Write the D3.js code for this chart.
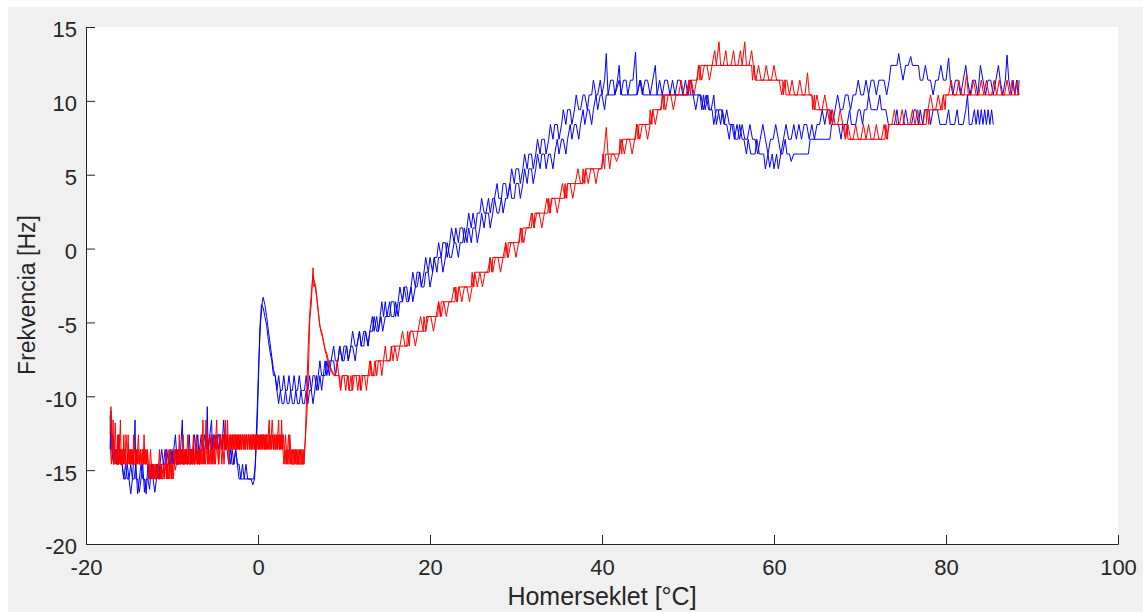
<!DOCTYPE html>
<html>
<head>
<meta charset="utf-8">
<script src="https://cdn.jsdelivr.net/npm/d3@7"></script>
<style>
  html, body { margin: 0; padding: 0; background: #ffffff; }
  svg { display: block; font-family: Arial, "Liberation Sans", Helvetica, sans-serif; }
</style>
</head>
<body>
<svg id="chart" width="1143" height="612"></svg>
<script>
// Axis ticks
const xTicks = [-20, 0, 20, 40, 60, 80, 100];
const yTicks = [-20, -15, -10, -5, 0, 5, 10, 15];

// Measured runs: [temperature °C, frequency Hz]
const blueRunA = [
  [-17.2,-11.3],[-17.1,-13.6],[-17.0,-12.6],[-16.9,-13.6],[-16.8,-14.6],[-16.6,-13.6],[-16.4,-14.6],[-16.2,-14.6],[-16.0,-13.6],[-15.8,-14.6],
  [-15.6,-15.6],[-15.4,-14.6],[-15.2,-15.6],[-15.0,-15.6],[-14.8,-14.6],[-14.6,-15.6],[-14.4,-13.6],[-14.3,-11.6],[-14.2,-15.6],[-14.0,-15.6],
  [-13.8,-16.5],[-13.6,-15.6],[-13.4,-14.6],[-13.2,-16.5],[-13.0,-15.6],[-12.8,-15.6],[-12.6,-16.3],[-12.4,-14.6],[-12.2,-15.6],[-12.0,-16.5],
  [-11.8,-15.6],[-11.6,-14.6],[-11.4,-15.6],[-11.2,-14.6],[-11.0,-14.6],[-10.8,-13.6],[-10.6,-14.6],[-10.4,-14.6],[-10.2,-13.6],[-10.0,-14.6],
  [-9.8,-13.6],[-9.6,-12.6],[-9.4,-14.6],[-9.2,-13.6],[-9.0,-14.6],[-8.8,-13.6],[-8.6,-14.6],[-8.4,-13.6],[-8.2,-14.6],[-8.0,-12.6],
  [-7.8,-14.6],[-7.6,-13.6],[-7.4,-14.6],[-7.2,-13.6],[-7.0,-12.6],[-6.8,-14.6],[-6.6,-13.6],[-6.4,-13.6],[-6.2,-12.6],[-6.0,-13.6],
  [-5.9,-10.7],[-5.8,-13.6],[-5.6,-12.6],[-5.4,-13.6],[-5.2,-12.6],[-5.0,-13.6],[-4.8,-12.6],[-4.6,-13.6],[-4.4,-12.6],[-4.2,-13.6],
  [-4.0,-11.6],[-3.8,-13.6],[-3.6,-12.6],[-3.4,-13.6],[-3.2,-14.6],[-3.0,-13.6],[-2.8,-14.6],[-2.6,-13.6],[-2.4,-14.6],[-2.2,-14.6],
  [-2.0,-15.6],[-1.8,-14.6],[-1.6,-15.6],[-1.4,-14.6],[-1.2,-15.6],[-1.0,-15.6],[-0.8,-15.6],[-0.6,-16.0],[-0.4,-15.6],[-0.3,-14.3],
  [-0.1,-11.0],[0.1,-7.5],[0.3,-5.0],[0.5,-3.6],[0.6,-3.3],[0.8,-3.8],[1.0,-4.6],[1.2,-5.5],[1.4,-6.4],[1.6,-7.3],
  [1.8,-8.2],[2.0,-8.6],[2.2,-9.6],[2.4,-10.5],[2.6,-9.6],[2.8,-10.5],[3.0,-10.5],[3.2,-9.6],[3.4,-10.5],[3.6,-10.5],
  [3.8,-9.6],[4.0,-10.5],[4.2,-10.5],[4.4,-9.6],[4.6,-10.5],[4.8,-10.5],[5.0,-9.6],[5.2,-10.5],[5.4,-10.5],[5.6,-9.6],
  [5.8,-10.5],[6.0,-9.6],[6.2,-9.6],[6.4,-10.5],[6.6,-9.6],[6.8,-8.6],[7.0,-9.6],[7.2,-8.6],[7.4,-9.6],[7.6,-8.6],
  [7.8,-8.6],[8.0,-7.6],[8.3,-8.6],[8.5,-7.6],[8.8,-7.6],[9.0,-8.6],[9.3,-7.6],[9.5,-6.6],[9.8,-7.6],[10.0,-7.6],
  [10.3,-6.6],[10.5,-7.6],[10.8,-6.6],[11.0,-6.6],[11.3,-7.6],[11.5,-6.6],[11.8,-5.6],[12.0,-6.6],[12.3,-6.6],[12.5,-5.6],
  [12.8,-6.6],[13.0,-5.6],[13.3,-5.6],[13.5,-4.6],[13.8,-5.6],[14.0,-5.6],[14.3,-4.6],[14.5,-5.6],[14.8,-4.6],[15.0,-4.6],
  [15.3,-3.6],[15.5,-4.6],[15.8,-4.6],[16.0,-3.6],[16.3,-4.6],[16.5,-3.6],[16.8,-3.6],[17.0,-2.6],[17.3,-3.6],[17.5,-3.6],
  [17.8,-2.6],[18.0,-3.6],[18.3,-2.6],[18.5,-2.6],[18.8,-1.6],[19.0,-2.6],[19.3,-2.6],[19.5,-1.6],[19.8,-1.6],[20.0,-2.6],
  [20.3,-1.6],[20.5,-0.6],[20.8,-1.6],[21.0,-0.6],[21.3,-0.6],[21.5,-1.6],[21.8,-0.6],[22.0,0.4],[22.3,-0.6],[22.5,-0.6],
  [22.8,0.4],[23.0,0.4],[23.3,-0.6],[23.5,0.4],[23.8,0.4],[24.0,1.4],[24.3,0.4],[24.5,1.4],[24.8,0.4],[25.0,1.4],
  [25.3,1.4],[25.5,0.4],[25.8,1.4],[26.0,2.4],[26.3,1.4],[26.5,2.4],[26.8,2.4],[27.0,1.4],[27.3,2.4],[27.5,3.4],
  [27.8,2.4],[28.0,2.4],[28.3,3.4],[28.5,2.4],[28.8,3.4],[29.0,3.4],[29.3,4.4],[29.5,3.4],[29.8,3.4],[30.0,4.4],
  [30.3,4.4],[30.5,3.4],[30.8,4.4],[31.0,5.4],[31.3,4.4],[31.5,5.4],[31.8,5.4],[32.0,4.4],[32.3,5.4],[32.5,6.4],
  [32.8,5.4],[33.0,6.4],[33.3,6.4],[33.5,5.4],[33.8,6.4],[34.0,6.4],[34.3,5.4],[34.5,6.4],[34.8,7.4],[35.0,6.4],
  [35.3,7.4],[35.5,7.4],[35.8,6.4],[36.0,7.4],[36.3,8.4],[36.5,7.4],[36.8,8.4],[37.0,8.4],[37.3,7.4],[37.5,8.4],
  [37.8,9.4],[38.0,8.4],[38.3,9.4],[38.5,9.4],[38.8,8.4],[39.0,9.4],[39.3,10.4],[39.5,9.4],[39.8,10.4],[40.0,10.4],
  [40.3,9.4],[40.5,10.4],[41.0,10.4],[41.5,10.4],[42.0,11.4],[42.3,10.4],[43.0,10.4],[44.0,10.4],[44.5,11.4],[44.8,10.4],
  [46.0,10.4],[47.0,10.4],[48.0,10.4],[49.0,10.4],[50.0,10.4],[51.0,10.4],[51.4,10.4],[51.6,9.4],[51.8,10.4],[52.0,9.4],
  [52.3,10.4],[52.5,9.4],[52.8,9.4],[53.0,8.4],[53.3,9.4],[53.5,9.4],[53.8,8.4],[54.0,9.4],[54.3,8.4],[54.5,8.4],
  [54.8,7.4],[55.0,8.4],[55.3,8.4],[55.5,7.4],[55.8,7.4],[56.0,8.4],[56.3,7.4],[56.5,7.4],[56.8,6.4],[57.0,7.4],
  [57.3,6.4],[57.5,6.4],[57.8,6.4],[58.0,7.4],[58.3,6.4],[58.8,6.4],[59.0,5.4],[59.3,6.4],[59.5,5.5],[59.8,6.4],
  [60.0,5.4],[60.3,6.4],[60.5,5.4],[60.8,6.4],[61.0,6.4],[61.3,7.4],[61.5,6.4],[61.8,6.4],[62.0,5.9],[62.3,6.4],
  [63.0,6.4],[63.5,6.4],[64.0,6.4],[64.2,7.4],[65.0,7.4],[66.0,7.4],[66.5,7.4],[66.7,8.4],[67.5,8.4],[67.8,7.4],
  [68.0,8.4],[68.5,8.4],[68.8,9.4],[69.0,8.4],[69.5,8.4],[69.8,9.4],[70.0,9.4],[70.3,8.4],[70.5,9.4],[70.8,9.4],
  [71.0,10.4],[71.3,9.4],[71.5,9.4],[72.0,9.4],[72.3,10.4],[72.5,9.4],[73.0,9.4],[73.3,8.4],[73.5,8.4],[74.0,8.4],
  [74.3,9.4],[74.5,8.4],[75.0,8.4],[75.3,9.4],[75.6,8.4],[76.0,8.4],[76.3,9.4],[76.5,9.4],[76.8,8.4],[77.0,9.4],
  [77.3,8.4],[77.5,9.4],[78.0,9.4],[78.2,8.4],[78.5,9.4],[79.0,9.4],[79.3,8.4],[79.6,8.4],[80.0,8.4],[80.3,9.4],
  [80.5,8.4],[81.0,8.4],[81.3,9.4],[81.5,8.4],[82.0,8.4],[82.3,9.4],[82.5,10.4],[82.7,8.4],[83.0,8.4],[83.3,9.4],
  [83.5,8.4],[83.7,9.4],[83.9,8.4],[84.1,9.4],[84.3,8.4],[84.5,9.4],[84.7,8.4],[84.9,9.4],[85.1,8.4],[85.3,9.4],
  [85.5,8.4]
];

const blueRunB = [
  [-17.2,-13.6],[-17.1,-11.0],[-17.0,-13.6],[-16.8,-14.6],[-16.6,-13.6],[-16.4,-14.6],[-16.2,-12.6],[-16.0,-14.6],[-15.8,-14.6],[-15.6,-15.6],
  [-15.4,-15.6],[-15.2,-14.6],[-15.0,-15.6],[-14.8,-16.6],[-14.6,-15.6],[-14.4,-15.6],[-14.2,-14.6],[-14.0,-16.6],[-13.8,-15.6],[-13.6,-14.6],
  [-13.4,-15.6],[-13.2,-15.6],[-13.0,-16.6],[-12.8,-14.6],[-12.6,-15.6],[-12.4,-15.6],[-12.2,-14.6],[-12.0,-15.6],[-11.8,-14.6],[-11.6,-15.6],
  [-11.4,-14.6],[-11.2,-13.6],[-11.0,-14.6],[-10.8,-14.6],[-10.6,-13.6],[-10.4,-14.6],[-10.2,-14.6],[-10.0,-13.6],[-9.8,-14.6],[-9.6,-13.6],
  [-9.4,-14.6],[-9.2,-14.6],[-9.0,-13.6],[-8.8,-11.6],[-8.7,-14.6],[-8.4,-13.6],[-8.2,-14.6],[-8.0,-13.6],[-7.8,-13.6],[-7.6,-14.6],
  [-7.4,-12.6],[-7.2,-13.6],[-7.0,-14.6],[-6.8,-13.6],[-6.6,-12.6],[-6.4,-13.6],[-6.2,-13.6],[-6.0,-12.6],[-5.8,-13.6],[-5.6,-12.6],
  [-5.4,-11.6],[-5.3,-13.6],[-5.0,-12.6],[-4.8,-13.6],[-4.6,-12.6],[-4.4,-12.6],[-4.2,-13.6],[-4.0,-12.6],[-3.8,-13.6],[-3.6,-13.6],
  [-3.4,-14.6],[-3.2,-13.6],[-3.0,-14.6],[-2.8,-14.6],[-2.6,-13.6],[-2.4,-14.6],[-2.2,-15.6],[-2.0,-15.6],[-1.6,-15.6],[-1.2,-15.6],
  [-0.8,-15.6],[-0.5,-15.6],[-0.3,-14.6],[-0.1,-12.0],[0.1,-8.0],[0.2,-5.5],[0.4,-3.8],[0.6,-4.0],[0.8,-4.6],[1.0,-5.2],
  [1.2,-6.2],[1.4,-7.0],[1.6,-7.6],[1.8,-8.6],[2.0,-8.6],[2.2,-9.6],[2.4,-8.6],[2.6,-9.6],[2.8,-9.6],[3.0,-8.6],
  [3.2,-9.6],[3.4,-9.6],[3.6,-8.6],[3.8,-9.6],[4.0,-9.6],[4.2,-8.6],[4.4,-9.6],[4.6,-9.6],[4.8,-8.6],[5.0,-9.6],
  [5.2,-9.6],[5.4,-9.6],[5.6,-8.6],[5.8,-9.6],[6.0,-8.6],[6.2,-9.6],[6.4,-8.6],[6.6,-8.6],[6.8,-9.6],[7.0,-8.6],
  [7.2,-7.6],[7.4,-8.6],[7.6,-8.6],[7.8,-7.6],[8.0,-8.6],[8.3,-7.6],[8.5,-7.6],[8.8,-6.6],[9.0,-7.6],[9.3,-7.6],
  [9.5,-6.6],[9.8,-7.6],[10.0,-6.6],[10.3,-6.6],[10.5,-7.6],[10.8,-6.6],[11.0,-5.6],[11.3,-6.6],[11.5,-6.6],[11.8,-5.6],
  [12.0,-6.6],[12.3,-5.6],[12.5,-5.6],[12.8,-6.6],[13.0,-5.6],[13.3,-4.6],[13.5,-5.6],[13.8,-4.6],[14.0,-5.6],[14.2,-4.6],
  [14.4,-3.6],[14.6,-4.6],[14.8,-3.6],[15.0,-4.6],[15.3,-4.6],[15.5,-3.6],[15.8,-3.6],[16.0,-4.6],[16.3,-3.6],[16.5,-2.6],
  [16.8,-3.6],[17.0,-2.6],[17.3,-2.6],[17.5,-3.6],[17.8,-2.6],[18.0,-1.6],[18.3,-2.6],[18.5,-1.6],[18.8,-1.6],[19.0,-2.6],
  [19.3,-1.6],[19.5,-0.6],[19.8,-1.6],[20.0,-0.6],[20.3,-1.6],[20.5,-0.6],[20.8,-0.6],[21.0,0.4],[21.3,-0.6],[21.5,0.4],
  [21.8,0.4],[22.0,-0.6],[22.3,0.4],[22.5,1.4],[22.8,0.4],[23.0,1.4],[23.3,0.4],[23.5,1.4],[23.8,1.4],[24.0,0.4],
  [24.3,1.4],[24.5,2.4],[24.8,1.4],[25.0,2.4],[25.3,1.4],[25.5,2.4],[25.8,2.4],[26.0,3.4],[26.3,2.4],[26.5,2.4],
  [26.8,3.4],[27.0,2.4],[27.3,3.4],[27.5,3.4],[27.8,4.4],[28.0,3.4],[28.3,3.4],[28.5,4.4],[28.8,4.4],[29.0,3.4],
  [29.3,4.4],[29.5,5.4],[29.8,4.4],[30.0,5.4],[30.3,5.4],[30.5,4.4],[30.8,5.4],[31.0,6.4],[31.3,5.4],[31.5,6.4],
  [31.8,6.4],[32.0,5.4],[32.3,6.4],[32.5,7.4],[32.8,6.4],[33.0,7.4],[33.3,7.4],[33.5,6.4],[33.8,7.4],[34.0,8.4],
  [34.3,7.4],[34.5,8.4],[34.8,8.4],[35.0,7.4],[35.3,8.4],[35.5,9.4],[35.8,8.4],[36.0,9.4],[36.3,9.4],[36.5,8.4],
  [36.8,9.4],[37.0,10.4],[37.3,9.4],[37.5,9.4],[37.8,10.4],[38.0,10.4],[38.3,9.4],[38.5,10.4],[38.8,10.4],[39.0,11.4],
  [39.3,10.4],[39.5,10.4],[39.8,11.4],[40.0,10.4],[40.3,11.4],[40.5,13.2],[40.7,10.4],[41.0,11.4],[41.3,11.4],[41.5,10.4],
  [41.8,11.4],[42.0,12.4],[42.2,10.4],[42.5,11.4],[42.8,11.4],[43.0,10.4],[43.3,11.4],[43.6,11.4],[43.9,13.3],[44.1,10.4],
  [44.4,11.4],[44.7,10.4],[45.0,11.4],[45.3,11.4],[45.6,10.4],[45.9,11.4],[46.2,12.4],[46.4,10.4],[46.7,11.4],[47.0,10.4],
  [47.3,11.4],[47.6,11.4],[47.9,10.4],[48.2,11.4],[48.5,10.4],[48.8,11.4],[49.1,11.4],[49.4,10.4],[49.7,11.4],[50.0,10.4],
  [50.3,11.4],[50.6,10.4],[50.9,9.4],[51.2,10.4],[51.5,10.4],[51.8,9.4],[52.1,10.4],[52.4,9.4],[52.7,9.4],[53.0,10.4],
  [53.3,8.4],[53.6,9.4],[53.9,9.4],[54.2,8.4],[54.5,9.4],[54.8,8.4],[55.1,8.4],[55.4,7.4],[55.7,8.4],[56.0,7.4],
  [56.3,8.4],[56.6,7.4],[56.9,7.4],[57.2,8.4],[57.5,7.4],[57.8,7.4],[58.1,6.4],[58.4,7.4],[58.7,8.4],[59.0,7.4],
  [59.3,6.4],[59.6,7.4],[59.9,7.4],[60.2,8.4],[60.5,7.4],[60.8,6.4],[61.1,7.4],[61.4,8.4],[61.7,7.4],[62.0,7.4],
  [62.3,8.4],[62.6,7.4],[62.9,8.4],[63.2,7.4],[63.5,8.4],[63.8,8.4],[64.1,7.4],[64.4,8.4],[64.7,7.4],[65.0,8.4],
  [65.3,8.4],[65.6,9.4],[65.9,8.4],[66.2,9.4],[66.5,9.4],[66.8,8.4],[67.1,9.4],[67.4,10.4],[67.7,9.4],[68.0,9.4],
  [68.3,10.4],[68.6,10.4],[68.9,9.4],[69.2,10.4],[69.5,10.4],[69.8,11.4],[70.1,10.4],[70.4,10.4],[70.7,11.4],[71.0,10.4],
  [71.3,11.4],[71.6,11.4],[71.9,10.4],[72.2,11.4],[72.5,11.4],[72.8,11.4],[73.1,10.4],[73.4,11.4],[73.6,12.4],[74.0,12.4],
  [74.3,12.4],[74.5,13.2],[74.7,12.4],[75.0,11.4],[75.3,12.4],[75.6,12.4],[75.9,13.0],[76.1,12.4],[76.5,12.4],[76.8,12.4],
  [77.0,11.4],[77.3,11.4],[77.6,12.4],[77.9,11.4],[78.2,11.4],[78.5,10.4],[78.8,11.4],[79.1,11.4],[79.4,12.4],[79.7,11.4],
  [80.0,11.4],[80.3,12.9],[80.5,11.4],[80.8,10.4],[81.1,11.4],[81.4,11.4],[81.7,10.4],[82.0,11.4],[82.3,12.4],[82.5,11.4],
  [82.8,10.4],[83.1,11.4],[83.4,11.4],[83.7,10.4],[84.0,12.4],[84.3,11.4],[84.6,10.4],[84.9,11.4],[85.2,11.4],[85.5,10.4],
  [85.8,11.4],[86.1,12.4],[86.3,11.4],[86.6,10.4],[86.9,11.4],[87.1,13.1],[87.3,11.4],[87.6,10.4],[87.8,11.4],[88.0,10.4],
  [88.2,11.4],[88.4,10.4],[88.5,11.4]
];

const redRunA = [
  [-17.2,-12.6],[-17.1,-10.7],[-17.0,-13.6],[-16.9,-12.6],[-16.8,-14.6],[-16.7,-13.6],[-16.6,-11.8],[-16.5,-13.6],[-16.4,-14.6],[-16.3,-12.6],
  [-16.2,-14.6],[-16.1,-13.6],[-16.0,-11.6],[-15.9,-14.6],[-15.8,-13.6],[-15.7,-14.6],[-15.6,-12.6],[-15.5,-14.6],[-15.4,-13.6],[-15.3,-14.6],
  [-15.2,-14.6],[-15.1,-12.6],[-15.0,-14.6],[-14.9,-13.6],[-14.8,-14.6],[-14.7,-13.6],[-14.6,-14.6],[-14.5,-13.6],[-14.4,-14.6],[-14.3,-14.6],
  [-14.2,-13.6],[-14.1,-14.6],[-14.0,-13.6],[-13.9,-12.6],[-13.8,-14.6],[-13.7,-13.6],[-13.6,-14.6],[-13.5,-14.6],[-13.4,-13.6],[-13.3,-14.6],
  [-13.2,-13.6],[-13.1,-14.6],[-13.0,-14.6],[-12.9,-13.6],[-12.8,-14.6],[-12.7,-15.6],[-12.6,-14.6],[-12.5,-13.6],[-12.4,-14.6],[-12.3,-14.6],
  [-12.2,-15.6],[-12.1,-14.6],[-12.0,-15.6],[-11.8,-15.6],[-11.7,-14.6],[-11.6,-15.6],[-11.4,-15.6],[-11.3,-14.6],[-11.2,-15.6],[-11.0,-14.6],
  [-10.9,-15.6],[-10.8,-14.6],[-10.7,-13.6],[-10.6,-15.6],[-10.5,-14.6],[-10.4,-15.6],[-10.3,-14.6],[-10.2,-13.6],[-10.1,-14.6],[-10.0,-15.6],
  [-9.9,-14.6],[-9.8,-13.6],[-9.7,-14.6],[-9.6,-15.0],[-9.5,-14.6],[-9.4,-13.6],[-9.3,-14.6],[-9.2,-13.6],[-9.1,-14.6],[-9.0,-14.6],
  [-8.9,-13.6],[-8.8,-14.6],[-8.7,-12.6],[-8.6,-14.6],[-8.5,-13.6],[-8.4,-14.6],[-8.3,-13.6],[-8.2,-14.6],[-8.1,-13.6],[-8.0,-14.6],
  [-7.9,-14.6],[-7.8,-13.6],[-7.7,-14.6],[-7.6,-13.6],[-7.5,-12.6],[-7.4,-14.6],[-7.3,-13.6],[-7.2,-14.6],[-7.1,-13.6],[-7.0,-14.6],
  [-6.9,-13.6],[-6.8,-14.6],[-6.7,-13.6],[-6.6,-14.6],[-6.5,-13.6],[-6.4,-11.6],[-6.3,-14.6],[-6.2,-13.6],[-6.1,-14.6],[-6.0,-13.6],
  [-5.9,-12.6],[-5.8,-14.6],[-5.7,-13.6],[-5.6,-14.6],[-5.5,-13.6],[-5.4,-12.6],[-5.3,-14.6],[-5.2,-13.6],[-5.1,-14.6],[-5.0,-13.6],
  [-4.9,-12.6],[-4.8,-11.6],[-4.7,-13.6],[-4.6,-14.6],[-4.5,-13.6],[-4.4,-12.6],[-4.3,-13.6],[-4.2,-14.6],[-4.1,-13.6],[-4.0,-12.6],
  [-3.9,-13.6],[-3.8,-11.6],[-3.7,-13.6],[-3.6,-12.6],[-3.5,-13.6],[-3.4,-14.6],[-3.3,-13.6],[-3.2,-12.6],[-3.1,-13.6],[-3.0,-12.6],
  [-2.9,-13.6],[-2.8,-12.6],[-2.7,-13.6],[-2.6,-12.6],[-2.5,-13.6],[-2.4,-12.6],[-2.3,-13.6],[-2.2,-12.6],[-2.1,-13.6],[-2.0,-12.6],
  [-1.9,-13.6],[-1.8,-12.6],[-1.7,-13.6],[-1.6,-12.6],[-1.5,-13.6],[-1.4,-12.6],[-1.3,-12.6],[-1.2,-13.6],[-1.1,-12.6],[-1.0,-13.6],
  [-0.9,-12.6],[-0.8,-13.6],[-0.7,-12.6],[-0.6,-13.6],[-0.5,-12.6],[-0.4,-13.6],[-0.3,-12.6],[-0.2,-13.6],[-0.1,-12.6],[0.0,-13.6],
  [0.1,-12.6],[0.2,-13.6],[0.3,-12.6],[0.4,-12.6],[0.5,-13.6],[0.6,-12.6],[0.7,-13.6],[0.8,-12.6],[0.9,-13.6],[1.0,-12.6],
  [1.1,-13.6],[1.2,-12.6],[1.3,-11.6],[1.4,-13.6],[1.5,-12.6],[1.6,-13.6],[1.7,-12.6],[1.8,-13.6],[1.9,-12.6],[2.0,-13.6],
  [2.1,-12.6],[2.2,-13.6],[2.3,-12.6],[2.4,-11.6],[2.5,-13.6],[2.6,-12.6],[2.7,-13.6],[2.8,-12.6],[2.9,-13.6],[3.0,-14.6],
  [3.1,-13.6],[3.2,-12.6],[3.3,-13.6],[3.4,-14.6],[3.5,-13.6],[3.6,-14.6],[3.7,-12.6],[3.8,-13.6],[3.9,-14.6],[4.0,-13.6],
  [4.1,-14.6],[4.2,-14.6],[4.3,-13.6],[4.4,-14.6],[4.5,-13.6],[4.6,-14.6],[4.7,-14.6],[4.8,-13.6],[4.9,-14.6],[5.0,-14.6],
  [5.1,-13.6],[5.2,-14.6],[5.3,-14.6],[5.4,-13.6],[5.5,-13.0],[5.7,-11.0],[5.9,-7.5],[6.0,-5.0],[6.2,-3.7],[6.3,-2.5],
  [6.4,-1.3],[6.5,-2.6],[6.6,-2.4],[6.8,-3.2],[7.0,-4.2],[7.2,-5.3],[7.4,-5.6],[7.6,-6.2],[7.8,-6.8],[8.0,-7.1],
  [8.2,-7.6],[8.4,-8.0],[8.7,-8.4],[9.0,-8.6],[9.2,-7.6],[9.4,-8.6],[9.6,-9.6],[9.8,-8.6],[10.0,-8.6],[10.2,-9.6],
  [10.4,-8.6],[10.6,-9.6],[10.8,-8.6],[11.0,-9.6],[11.2,-8.6],[11.4,-8.6],[11.6,-9.6],[11.8,-8.6],[12.0,-9.6],[12.2,-8.6],
  [12.4,-8.6],[12.6,-9.6],[12.8,-8.6],[13.0,-7.6],[13.2,-8.6],[13.4,-8.6],[13.6,-7.6],[13.8,-8.6],[14.0,-7.6],[14.2,-7.6],
  [14.4,-8.6],[14.6,-7.6],[14.8,-6.6],[15.0,-7.6],[15.3,-7.6],[15.6,-6.6],[15.9,-6.6],[16.2,-7.6],[16.5,-6.6],[16.8,-5.6],
  [17.1,-6.6],[17.4,-6.6],[17.7,-5.6],[18.0,-5.6],[18.3,-6.6],[18.6,-5.6],[18.9,-4.6],[19.2,-5.6],[19.5,-5.6],[19.8,-4.6],
  [20.1,-4.6],[20.4,-5.6],[20.7,-4.6],[21.0,-3.6],[21.3,-4.6],[21.6,-3.6],[21.9,-4.6],[22.2,-3.6],[22.5,-3.6],[22.8,-2.6],
  [23.1,-3.6],[23.4,-2.6],[23.7,-3.6],[24.0,-2.6],[24.3,-2.6],[24.6,-3.6],[24.9,-2.6],[25.2,-1.6],[25.5,-2.6],[25.8,-1.6],
  [26.1,-2.6],[26.4,-1.6],[26.7,-1.6],[27.0,-0.6],[27.3,-1.6],[27.6,-0.6],[27.9,-0.6],[28.2,-1.6],[28.5,-0.6],[28.8,0.4],
  [29.1,-0.6],[29.4,0.4],[29.7,0.4],[30.0,-0.6],[30.3,0.4],[30.6,1.4],[30.9,0.4],[31.2,1.4],[31.5,1.4],[31.8,2.4],
  [32.1,1.4],[32.4,2.4],[32.7,2.4],[33.0,1.4],[33.3,2.4],[33.6,3.4],[33.9,2.4],[34.2,3.4],[34.5,3.4],[34.8,2.4],
  [35.1,3.4],[35.4,4.4],[35.7,3.4],[36.0,4.4],[36.3,4.4],[36.6,3.4],[36.9,4.4],[37.2,5.4],[37.5,4.4],[37.8,4.4],
  [38.1,5.4],[38.4,4.4],[38.7,5.4],[39.0,5.4],[39.3,4.4],[39.6,5.4],[39.9,5.4],[40.2,6.4],[40.5,8.2],[40.7,6.4],
  [40.9,5.4],[41.1,6.4],[41.4,6.4],[41.7,5.9],[42.0,6.4],[42.3,7.4],[42.6,6.4],[42.9,7.4],[43.2,7.4],[43.5,6.4],
  [43.8,7.4],[44.1,8.4],[44.4,7.4],[44.7,8.4],[45.0,8.4],[45.3,7.4],[45.6,8.4],[45.9,9.4],[46.2,8.4],[46.5,9.4],
  [46.8,9.4],[47.1,10.4],[47.4,9.4],[47.7,10.4],[48.0,10.4],[48.3,9.4],[48.6,10.4],[48.9,10.4],[49.2,11.4],[49.5,10.4],
  [49.8,10.4],[50.1,11.4],[50.4,11.4],[50.7,10.4],[51.0,11.4],[51.3,12.4],[51.6,11.4],[51.9,12.4],[52.2,12.4],[52.5,11.4],
  [52.8,12.4],[53.1,13.4],[53.3,12.4],[53.6,14.0],[53.8,12.4],[54.1,12.4],[54.4,13.4],[54.6,12.4],[55.0,12.4],[55.3,13.4],
  [55.5,12.4],[55.8,12.4],[56.1,13.4],[56.3,12.4],[56.6,14.0],[56.8,12.4],[57.1,12.4],[57.4,13.4],[57.6,12.4],[57.9,11.4],
  [58.2,12.4],[58.5,11.4],[58.8,11.4],[59.1,12.4],[59.4,11.4],[59.7,11.4],[60.0,12.4],[60.3,11.4],[60.6,11.4],[60.9,10.4],
  [61.2,11.4],[61.5,11.4],[61.8,10.4],[62.1,11.4],[62.4,10.4],[62.7,10.4],[63.0,11.4],[63.3,10.4],[63.6,10.4],[63.9,11.9],
  [64.1,10.4],[64.4,10.4],[64.7,9.4],[65.0,10.4],[65.3,9.4],[65.6,9.4],[65.9,10.4],[66.2,9.4],[66.5,8.4],[66.8,9.4],
  [67.1,8.4],[67.4,8.4],[67.7,9.4],[68.0,8.4],[68.3,7.4],[68.6,8.4],[68.9,7.4],[69.2,7.4],[69.5,8.4],[69.8,7.4],
  [70.1,7.4],[70.4,8.4],[70.7,7.4],[71.0,8.4],[71.3,7.4],[71.6,7.4],[71.9,8.4],[72.2,7.4],[72.5,7.4],[72.8,8.4],
  [73.1,7.4],[73.4,8.4],[73.7,8.4],[74.0,9.4],[74.3,8.4],[74.6,8.4],[74.9,9.4],[75.2,8.4],[75.5,8.4],[75.8,8.4],
  [76.1,9.4],[76.4,8.4],[76.7,9.4],[77.0,8.4],[77.3,8.4],[77.6,9.4],[77.9,9.4],[78.2,10.4],[78.5,9.4],[78.8,9.4],
  [79.1,10.4],[79.4,9.4],[79.7,10.4],[80.0,10.4],[80.3,10.4],[80.6,11.4],[80.9,10.4],[81.2,10.4],[81.5,11.4],[81.8,10.4],
  [82.1,10.4],[82.4,11.8],[82.6,10.4],[82.9,10.4],[83.2,11.4],[83.5,10.4],[83.8,10.4],[84.1,11.4],[84.4,10.4],[84.7,11.4],
  [85.0,10.4],[85.3,10.4],[85.6,11.4],[85.9,10.4],[86.2,11.4],[86.5,10.4],[86.8,10.4],[87.1,11.4],[87.4,10.4],[87.7,11.4],
  [88.0,10.4],[88.3,11.4],[88.5,10.4]
];

// second red run: dense at low temperature, mostly flat steps above
const redRunB = [
  [-17.15,-13.6],[-17.05,-14.6],[-16.95,-13.6],[-16.85,-11.6],[-16.75,-14.6],[-16.65,-13.6],[-16.55,-14.6],[-16.45,-13.6],[-16.35,-14.6],[-16.25,-13.6],
  [-16.15,-12.6],[-16.05,-14.6],[-15.95,-13.6],[-15.85,-14.6],[-15.75,-13.6],[-15.65,-14.6],[-15.55,-13.6],[-15.45,-14.6],[-15.35,-12.6],[-15.25,-13.6],
  [-15.15,-14.6],[-15.05,-13.6],[-14.95,-14.6],[-14.85,-13.6],[-14.75,-14.6],[-14.65,-13.6],[-14.55,-14.6],[-14.45,-12.6],[-14.35,-13.6],[-14.25,-14.6],
  [-14.15,-13.6],[-14.05,-14.6],[-13.95,-13.6],[-13.85,-14.6],[-13.75,-14.6],[-13.65,-13.6],[-13.55,-14.6],[-13.45,-13.6],[-13.35,-14.6],[-13.25,-12.6],
  [-13.15,-14.6],[-13.05,-13.6],[-12.95,-14.6],[-12.85,-13.6],[-12.75,-14.6],[-12.65,-14.6],[-12.55,-15.6],[-12.45,-14.6],[-12.35,-15.6],[-12.25,-14.6],
  [-12.15,-15.6],[-12.05,-15.6],[-11.95,-14.6],[-11.85,-15.6],[-11.75,-14.6],[-11.65,-15.6],[-11.55,-14.6],[-11.45,-13.6],[-11.35,-15.6],[-11.25,-14.6],
  [-11.15,-15.6],[-11.05,-15.6],[-10.95,-14.6],[-10.85,-15.6],[-10.75,-14.6],[-10.65,-14.6],[-10.55,-15.6],[-10.45,-14.6],[-10.35,-13.6],[-10.25,-15.6],
  [-10.15,-14.6],[-10.05,-15.6],[-9.95,-14.6],[-9.85,-15.6],[-9.75,-14.6],[-9.65,-13.6],[-9.55,-14.6],[-9.45,-14.6],[-9.35,-13.6],[-9.25,-14.6],
  [-9.15,-12.6],[-9.05,-14.6],[-8.95,-13.6],[-8.85,-14.6],[-8.75,-13.6],[-8.65,-14.6],[-8.55,-14.6],[-8.45,-13.6],[-8.35,-14.6],[-8.25,-13.6],
  [-8.15,-12.6],[-8.05,-14.6],[-7.95,-13.6],[-7.85,-14.6],[-7.75,-13.6],[-7.65,-14.6],[-7.55,-13.6],[-7.45,-14.6],[-7.35,-14.6],[-7.25,-13.6],
  [-7.15,-12.6],[-7.05,-13.6],[-6.95,-14.6],[-6.85,-13.6],[-6.75,-14.6],[-6.65,-13.6],[-6.55,-12.6],[-6.45,-14.6],[-6.35,-13.6],[-6.25,-14.6],
  [-6.15,-13.6],[-6.05,-11.6],[-5.95,-13.6],[-5.85,-14.6],[-5.75,-13.6],[-5.65,-12.6],[-5.55,-13.6],[-5.45,-14.6],[-5.35,-13.6],[-5.25,-14.6],
  [-5.15,-12.6],[-5.05,-13.6],[-4.95,-14.6],[-4.85,-13.6],[-4.75,-12.6],[-4.65,-13.6],[-4.55,-14.6],[-4.45,-13.6],[-4.35,-12.6],[-4.25,-13.6],
  [-4.15,-12.6],[-4.05,-13.6],[-3.95,-14.6],[-3.85,-13.6],[-3.75,-12.6],[-3.65,-13.6],[-3.55,-11.6],[-3.45,-13.6],[-3.35,-12.6],[-3.25,-13.6],
  [-3.15,-12.6],[-3.05,-13.6],[-2.95,-12.6],[-2.85,-13.6],[-2.75,-12.6],[-2.65,-12.6],[-2.55,-13.6],[-2.45,-12.6],[-2.35,-13.6],[-2.25,-12.6],
  [-2.15,-13.6],[-2.05,-12.6],[-1.95,-13.6],[-1.85,-12.6],[-1.75,-12.6],[-1.65,-13.6],[-1.55,-12.6],[-1.45,-13.6],[-1.35,-12.6],[-1.25,-13.6],
  [-1.15,-12.6],[-1.05,-12.6],[-0.95,-13.6],[-0.85,-12.6],[-0.75,-13.6],[-0.65,-12.6],[-0.55,-12.6],[-0.45,-13.6],[-0.35,-12.6],[-0.25,-13.6],
  [-0.15,-12.6],[-0.05,-12.6],[0.05,-13.6],[0.15,-12.6],[0.25,-13.6],[0.35,-12.6],[0.45,-13.6],[0.55,-12.6],[0.65,-12.6],[0.75,-13.6],
  [0.85,-12.6],[0.95,-13.6],[1.05,-12.6],[1.15,-12.6],[1.25,-13.6],[1.35,-12.6],[1.45,-13.6],[1.55,-12.6],[1.65,-11.6],[1.75,-12.6],
  [1.85,-13.6],[1.95,-12.6],[2.05,-13.6],[2.15,-12.6],[2.25,-13.6],[2.35,-12.6],[2.45,-13.6],[2.55,-12.6],[2.65,-13.6],[2.75,-11.6],
  [2.85,-13.6],[2.95,-12.6],[3.05,-13.6],[3.15,-14.6],[3.25,-13.6],[3.35,-14.6],[3.45,-13.6],[3.55,-12.6],[3.65,-13.6],[3.75,-14.6],
  [3.85,-13.6],[3.95,-14.6],[4.05,-14.6],[4.15,-13.6],[4.25,-14.6],[4.35,-13.6],[4.45,-14.6],[4.55,-14.6],[4.65,-13.6],[4.75,-14.6],
  [4.85,-14.6],[4.95,-13.6],[5.05,-14.6],[5.15,-14.6],[5.25,-13.6],[5.35,-14.6],[5.45,-13.6],[5.55,-12.0],[5.7,-9.0],[5.85,-6.5],
  [6.0,-4.5],[6.2,-3.0],[6.4,-1.8],[6.55,-2.2],[6.7,-2.5],[6.9,-3.6],[7.1,-4.8],[7.3,-5.6],[7.5,-6.0],[7.8,-6.9],
  [8.1,-7.6],[8.4,-8.2],[8.8,-8.6],[9.5,-8.6],[9.6,-9.6],[9.8,-8.6],[10.5,-8.6],[10.6,-9.6],[10.9,-9.6],[11.0,-8.6],
  [11.8,-8.6],[11.9,-9.6],[12.0,-8.6],[13.0,-8.6],[13.1,-7.6],[13.3,-8.6],[13.6,-8.6],[13.7,-7.6],[15.4,-7.6],[15.5,-6.6],
  [15.7,-7.6],[15.9,-6.6],[17.3,-6.6],[17.4,-5.6],[17.6,-6.6],[17.7,-5.6],[19.2,-5.6],[19.3,-4.6],[19.5,-5.6],[19.6,-4.6],
  [20.9,-4.6],[21.0,-3.6],[21.2,-4.6],[21.3,-3.6],[22.9,-3.6],[23.0,-2.6],[23.2,-3.6],[23.3,-2.6],[24.8,-2.6],[24.9,-1.6],
  [25.1,-2.6],[25.2,-1.6],[26.9,-1.6],[27.0,-0.6],[27.2,-1.6],[27.3,-0.6],[28.7,-0.6],[28.8,0.4],[29.0,-0.6],[29.1,0.4],
  [30.4,0.4],[30.5,1.4],[30.7,0.4],[30.8,1.4],[31.8,1.4],[31.9,2.4],[32.1,1.4],[32.2,2.4],[33.7,2.4],[33.8,3.4],
  [34.0,2.4],[34.1,3.4],[35.6,3.4],[35.7,4.4],[35.9,3.4],[36.0,4.4],[37.7,4.4],[37.8,5.4],[38.0,4.4],[38.1,5.4],
  [40.0,5.4],[40.1,6.4],[40.3,5.4],[40.4,6.4],[42.0,6.4],[42.1,7.4],[42.3,6.4],[42.4,7.4],[43.9,7.4],[44.0,8.4],
  [44.2,7.4],[44.3,8.4],[45.5,8.4],[45.6,9.4],[45.8,8.4],[45.9,9.4],[46.9,9.4],[47.0,10.4],[47.2,9.4],[47.3,10.4],
  [50.0,10.4],[50.1,11.4],[50.3,10.4],[50.4,11.4],[51.1,11.4],[51.2,12.4],[51.4,11.4],[51.5,12.4],[57.4,12.4],[57.5,11.4],
  [57.7,12.4],[57.8,11.4],[61.0,11.4],[61.1,10.4],[61.3,11.4],[61.4,10.4],[64.4,10.4],[64.5,9.4],[64.7,10.4],[64.8,9.4],
  [66.4,9.4],[66.5,8.4],[66.7,9.4],[66.8,8.4],[68.2,8.4],[68.3,7.4],[68.5,8.4],[68.6,7.4],[72.9,7.4],[73.0,8.4],
  [73.2,7.4],[73.3,8.4],[77.7,8.4],[77.8,9.4],[78.0,8.4],[78.1,9.4],[79.6,9.4],[79.7,10.4],[79.9,9.4],[80.0,10.4],
  [88.5,10.4]
];

const xLabel = "Homerseklet [°C]";
const yLabel = "Frekvencia [Hz]";

const svg = d3.select("#chart");
const width = 1143, height = 612;
const plot = { left: 86, right: 1118, top: 27, bottom: 544 };

const x = d3.scaleLinear().domain([-20, 100]).range([plot.left, plot.right]);
const y = d3.scaleLinear().domain([-20, 15]).range([plot.bottom, plot.top]);

// figure background and white axes area
svg.append("rect").attr("x", 8).attr("y", 7).attr("width", width - 8).attr("height", height - 7).attr("fill", "#f0f0f0");
svg.append("rect")
  .attr("x", plot.left).attr("y", plot.top)
  .attr("width", plot.right - plot.left).attr("height", plot.bottom - plot.top)
  .attr("fill", "#ffffff");

const line = d3.line().x(d => x(d[0])).y(d => y(d[1]));

const runs = [
  { data: blueRunA, color: "#0000ff" },
  { data: blueRunB, color: "#0000ff" },
  { data: redRunB, color: "#ff0000" },
  { data: redRunA, color: "#ff0000" }
];

svg.append("g").selectAll("path").data(runs).join("path")
  .attr("d", d => line(d.data))
  .attr("fill", "none")
  .attr("stroke", d => d.color)
  .attr("stroke-width", 1)
  .attr("stroke-linejoin", "round");

const axisColor = "#262626";
const fontSize = 22;
const fmt = d => String(d);

const xAxis = svg.append("g")
  .attr("transform", `translate(0,${plot.bottom})`)
  .call(d3.axisBottom(x).tickValues(xTicks).tickFormat(fmt).tickSizeInner(-9).tickSizeOuter(0).tickPadding(15));

const yAxis = svg.append("g")
  .attr("transform", `translate(${plot.left},0)`)
  .call(d3.axisLeft(y).tickValues(yTicks).tickFormat(fmt).tickSizeInner(-9).tickSizeOuter(0).tickPadding(9));

[xAxis, yAxis].forEach(g => {
  g.attr("font-family", null).attr("font-size", null);
  g.select(".domain").attr("stroke", axisColor);
  g.selectAll(".tick line").attr("stroke", axisColor);
  g.selectAll(".tick text").attr("fill", axisColor).style("font-size", fontSize + "px");
});
yAxis.selectAll(".tick text").attr("dy", "0.45em");

// axis titles
svg.append("text")
  .attr("x", (plot.left + plot.right) / 2)
  .attr("y", 605)
  .attr("text-anchor", "middle")
  .attr("fill", axisColor)
  .style("font-size", "25px")
  .text(xLabel);

svg.append("text")
  .attr("transform", `translate(27,295) rotate(-90)`)
  .attr("dy", "0.35em")
  .attr("text-anchor", "middle")
  .attr("fill", axisColor)
  .style("font-size", "23px")
  .text(yLabel);
</script>
</body>
</html>
